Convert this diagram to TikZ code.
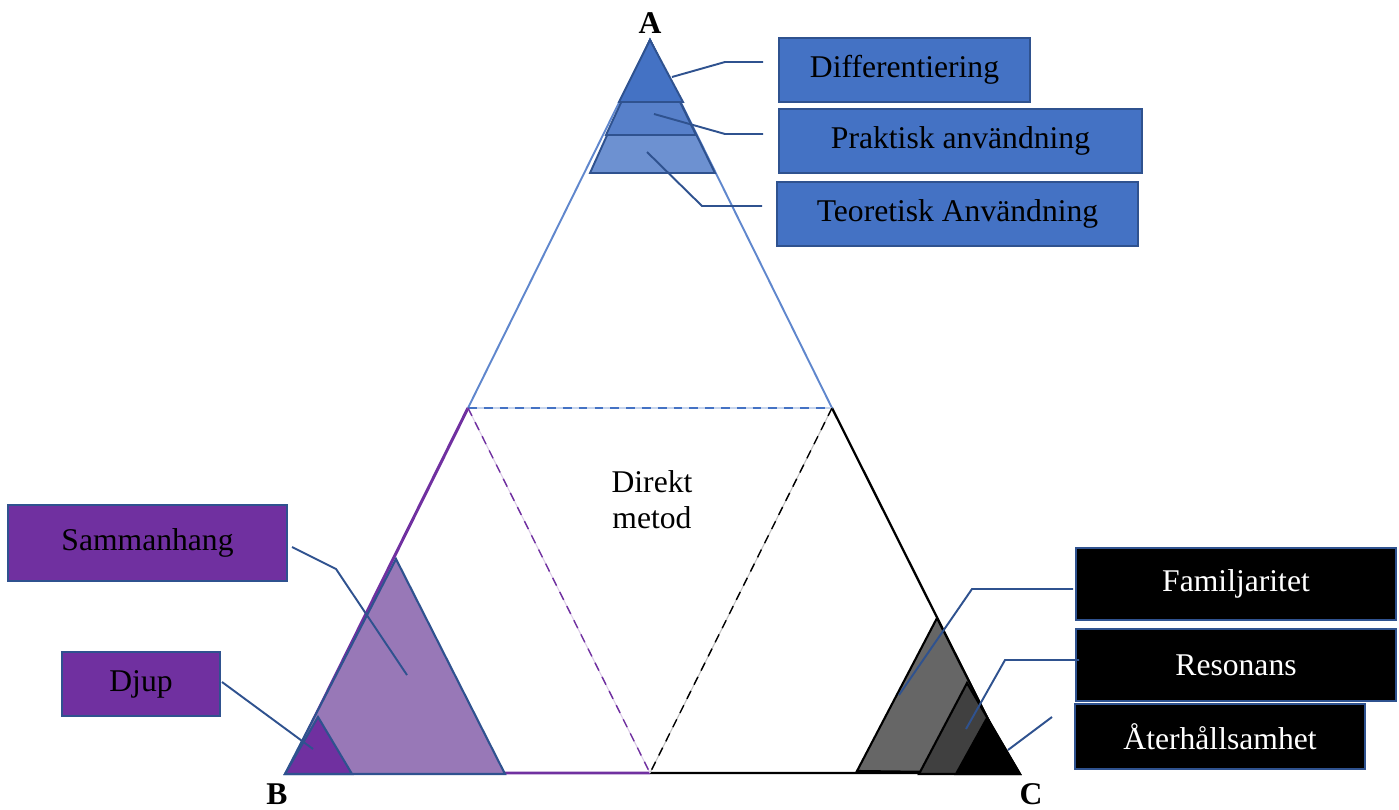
\documentclass[tikz,border=0pt]{standalone}
\usepackage{fontspec}
\setmainfont{Liberation Serif}
\usetikzlibrary{calc}
\definecolor{accblue}{HTML}{4472C4}
\definecolor{accline}{HTML}{2F528F}
\definecolor{accpurple}{HTML}{7030A0}
\definecolor{softpurple}{HTML}{9878B7}
\newcommand{\clrtop}{accblue!85!white}
\newcommand{\clrmid}{accblue!90!white}
\newcommand{\clrlow}{accblue!78!white}
\newcommand{\boxfont}{\fontsize{18}{20.4}\selectfont}

\begin{document}
\begin{tikzpicture}[x=0.02cm,y=-0.02cm,
    box/.style={draw=accline, line width=1pt, inner sep=0pt, font=\boxfont},
    conn/.style={accline, line width=1.1pt},
    corner/.style={font=\boxfont\bfseries}]
    \useasboundingbox (0,0) rectangle (1399,810);

    % corners of the big triangle and the mid points of its sides
    \coordinate (A) at (650,40);
    \coordinate (B) at (287,773);
    \coordinate (C) at (1015,773);
    \coordinate (mab) at (468,408);
    \coordinate (mac) at (832,408);
    \coordinate (mbc) at (650,773);

    \draw[\clrtop, line width=1.1pt] (mab) -- (A) -- (mac);
    \draw[accpurple, line width=1.7pt] (mab) -- (B) -- (mbc);
    \draw[black, line width=1.3pt] (mac) -- (C) -- (mbc);

    % inner triangle
    \draw[accblue!30, line width=1pt] (mab) -- (mac);
    \draw[accblue, line width=1pt, dash pattern=on 5pt off 4pt] (mab) -- (mac);
    \draw[accpurple!25, line width=0.6pt] (mab) -- (mbc);
    \draw[accpurple, line width=0.8pt, dash pattern=on 5pt off 4pt] (mab) -- (mbc);
    \draw[black!25, line width=0.6pt] (mac) -- (mbc);
    \draw[black, line width=0.8pt, dash pattern=on 5pt off 4pt] (mac) -- (mbc);

    \node[font=\boxfont, align=center] (direkt) at (652,500) {Direkt\\metod};

    % stacked triangles at A
    \filldraw[fill=\clrlow, draw=accline, line width=1.1pt] (A) -- (590,173) -- (715,173) -- cycle;
    \filldraw[fill=\clrmid, draw=accline, line width=1.1pt] (A) -- (606,135) -- (696,135) -- cycle;
    \filldraw[fill=accblue, draw=accline, line width=1.1pt] (A) -- (619,102) -- (683,102) -- cycle;

    % triangles at B
    \filldraw[fill=softpurple, draw=accline, line width=1.2pt] (396,559) -- (285,774) -- (505,774) -- cycle;
    \filldraw[fill=accpurple, draw=accline, line width=1.2pt] (318,717) -- (285,774) -- (352,774) -- cycle;

    % triangles at C
    \filldraw[fill=black!60, draw=black, line width=1.2pt] (937,618) -- (857,771) -- (1015,773) -- cycle;
    \filldraw[fill=black!75, draw=black, line width=1.2pt] (967,683) -- (919,774) -- (1020,774) -- cycle;
    \filldraw[fill=black, draw=black, line width=1.2pt] (987,718) -- (956,774) -- (1020,774) -- cycle;

    \node[corner] (lA) at (650,23) {A};
    \node[corner] (lB) at (277,794) {B};
    \node[corner] (lC) at (1031,794) {C};

    % label boxes
    \node[box, fill=accblue, minimum width=5.02cm, minimum height=1.28cm] (diff) at (904.5,70) {Differentiering};
    \node[box, fill=accblue, minimum width=7.26cm, minimum height=1.28cm] (prak) at (960.5,141) {Praktisk användning};
    \node[box, fill=accblue, minimum width=7.22cm, minimum height=1.28cm] (teor) at (957.5,214) {Teoretisk Användning};
    \node[box, fill=accpurple, minimum width=5.58cm, minimum height=1.52cm] (samm) at (147.5,543) {Sammanhang};
    \node[box, fill=accpurple, minimum width=3.16cm, minimum height=1.28cm] (djup) at (141,684) {Djup};
    \node[box, fill=black, text=white, minimum width=6.4cm, minimum height=1.44cm] (fam) at (1236,584) {Familjaritet};
    \node[box, fill=black, text=white, minimum width=6.4cm, minimum height=1.44cm] (reso) at (1236,665) {Resonans};
    \node[box, fill=black, text=white, minimum width=5.8cm, minimum height=1.3cm] (ater) at (1220,736.5) {Återhållsamhet};

    % connectors
    \coordinate (d0) at (672,77);  \coordinate (d1) at (763,62);
    \coordinate (p0) at (654,114); \coordinate (p1) at (763,134);
    \coordinate (t0) at (647,152); \coordinate (t1) at (762,206);
    \coordinate (s0) at (407,675); \coordinate (s1) at (292,547);
    \coordinate (j0) at (313,749); \coordinate (j1) at (222,682);
    \coordinate (f0) at (899,695); \coordinate (f1) at (1073,589);
    \coordinate (r0) at (966,729); \coordinate (r1) at (1079,660);
    \coordinate (a0) at (1008,750); \coordinate (a1) at (1052,717);

    \draw[conn] (d0) -- (725,62) -- (d1);
    \draw[conn] (p0) -- (725,134) -- (p1);
    \draw[conn] (t0) -- (702,206) -- (t1);
    \draw[conn] (s0) -- (336,569) -- (s1);
    \draw[conn] (j0) -- (j1);
    \draw[conn] (f0) -- (972,589) -- (f1);
    \draw[conn] (r0) -- (1005,660) -- (r1);
    \draw[conn] (a0) -- (a1);

\end{tikzpicture}
\end{document}
